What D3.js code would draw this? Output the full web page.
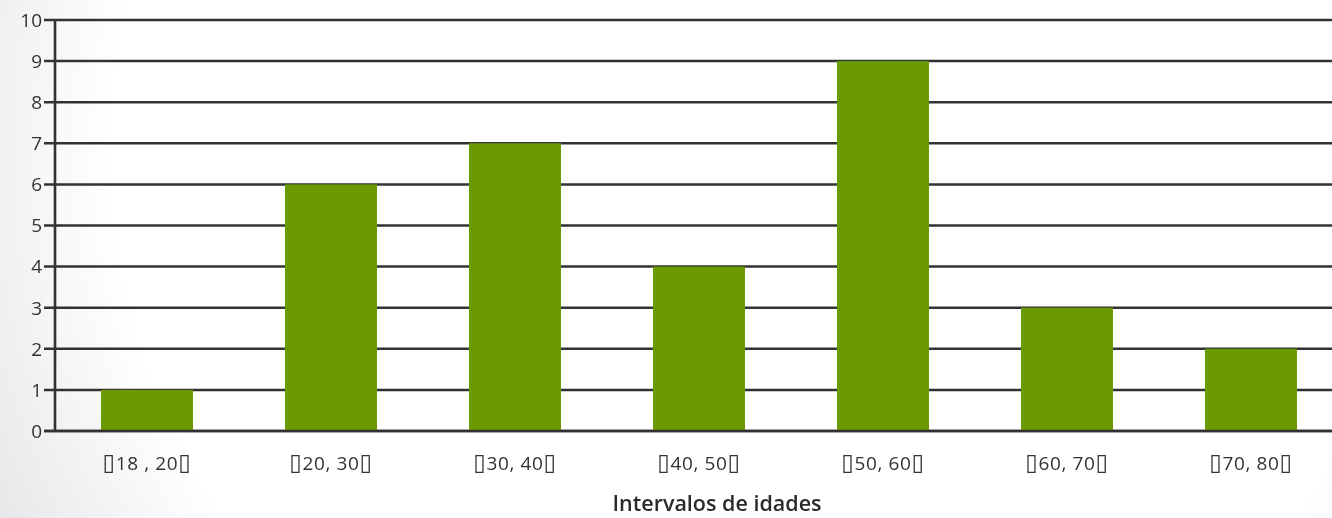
<!DOCTYPE html>
<html>
<head>
<meta charset="utf-8">
<script src="https://cdn.jsdelivr.net/npm/d3@7"></script>
<style>
  html, body { margin: 0; padding: 0; background: #fff; }
  svg { display: block; }
</style>
</head>
<body>
<svg id="chart" width="1332" height="518"></svg>
<script>
// Age intervals (the bracket glyphs show as boxes) and their counts
const categories = ["▯18 , 20▯", "▯20, 30▯", "▯30, 40▯", "▯40, 50▯", "▯50, 60▯", "▯60, 70▯", "▯70, 80▯"];
const counts = [1, 6, 7, 4, 9, 3, 2];
const yTicks = [0, 1, 2, 3, 4, 5, 6, 7, 8, 9, 10];
const xTitle = "Intervalos de idades";

const W = 1332, H = 518;
const plotLeft = 55, plotTop = 20, plotBottom = 431;
const font = "'Open Sans', 'DejaVu Sans', sans-serif";

const svg = d3.select("#chart");
const defs = svg.append("defs");

// soft grey shading along the left edge of the slide
const bg = defs.append("radialGradient").attr("id", "bg")
  .attr("gradientUnits", "userSpaceOnUse")
  .attr("cx", 760).attr("cy", 150).attr("r", 900);
bg.append("stop").attr("offset", "0.72").attr("stop-color", "#ffffff");
bg.append("stop").attr("offset", "0.95").attr("stop-color", "#e6e6e6");
bg.append("stop").attr("offset", "1").attr("stop-color", "#dedede");
svg.append("rect").attr("width", W).attr("height", H).attr("fill", "url(#bg)");

defs.append("filter").attr("id", "soft")
  .append("feGaussianBlur").attr("stdDeviation", 0.6);

const x = d3.scaleBand().domain(categories).range([plotLeft, 1343])
  .paddingInner(0.5).paddingOuter(0.25);
const y = d3.scaleLinear().domain([0, 10]).range([plotBottom, plotTop]);

const g = svg.append("g").attr("filter", "url(#soft)");

// horizontal grid lines with short tick stubs on the left
g.append("g").selectAll("line").data(yTicks).join("line")
  .attr("x1", 44).attr("x2", W)
  .attr("y1", d => y(d)).attr("y2", d => y(d))
  .attr("stroke", "#333").attr("stroke-width", 2.5);

// bars
g.append("g").selectAll("rect").data(counts).join("rect")
  .attr("x", (d, i) => x(categories[i]))
  .attr("y", d => y(d))
  .attr("width", x.bandwidth())
  .attr("height", d => y(0) - y(d))
  .attr("fill", "#6a9a05");

// baseline and vertical axis
g.append("line").attr("x1", 44).attr("x2", W).attr("y1", y(0)).attr("y2", y(0))
  .attr("stroke", "#333").attr("stroke-width", 2.6);
g.append("line").attr("x1", plotLeft).attr("x2", plotLeft).attr("y1", y(10)).attr("y2", y(0))
  .attr("stroke", "#333").attr("stroke-width", 2.6);

// y tick labels
g.append("g").selectAll("text").data(yTicks).join("text")
  .attr("x", 42).attr("y", d => y(d))
  .attr("dy", "0.36em")
  .attr("text-anchor", "end")
  .attr("font-family", font)
  .attr("font-size", 19)
  .attr("fill", "#333")
  .text(d => d);

// category labels; the box glyphs are set a little larger than the digits
g.append("g").selectAll("text").data(categories).join("text")
  .attr("x", d => x(d) + x.bandwidth() / 2)
  .attr("y", 470)
  .attr("text-anchor", "middle")
  .attr("font-family", font)
  .attr("font-size", 19)
  .attr("letter-spacing", 0.6)
  .attr("fill", "#333")
  .selectAll("tspan").data(d => d.split(/(▯)/).filter(Boolean)).join("tspan")
  .attr("font-size", s => s === "▯" ? 23 : null)
  .text(s => s);

// axis title
g.append("text")
  .attr("x", 717).attr("y", 511)
  .attr("text-anchor", "middle")
  .attr("font-family", font)
  .attr("font-size", 21.5)
  .attr("font-weight", 600)
  .attr("fill", "#2a2a2a")
  .text(xTitle);
</script>
</body>
</html>
